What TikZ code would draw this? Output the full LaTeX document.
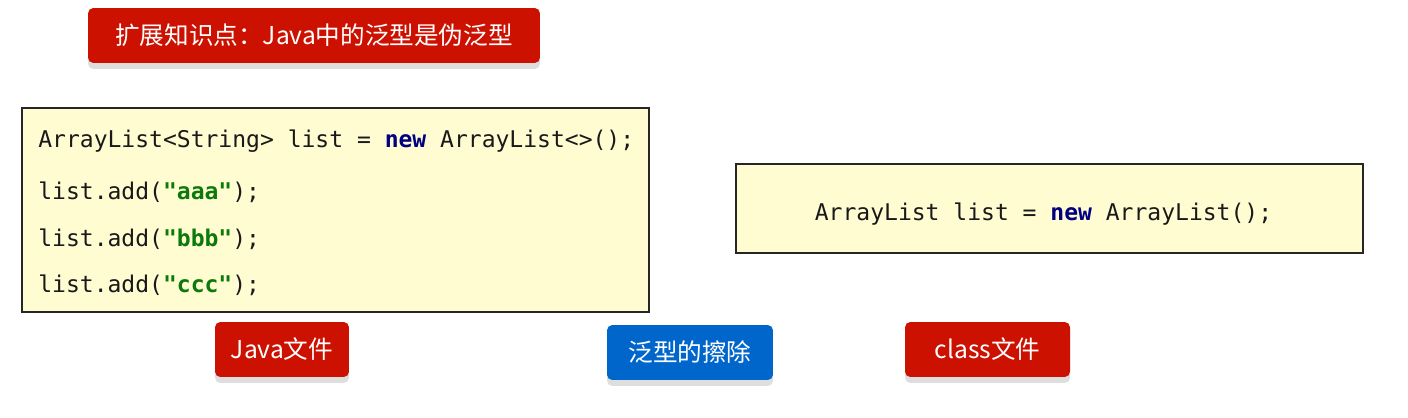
\documentclass[tikz,border=0pt]{standalone}
\usepackage{fontspec}
\setmainfont{Noto Sans CJK SC}
\setmonofont{DejaVu Sans Mono}
\usepackage{xcolor}
\usepackage{tikz}
\usetikzlibrary{shadows}

\definecolor{tagred}{HTML}{CC1100}
\definecolor{tagblue}{HTML}{0066CC}
\definecolor{codebg}{HTML}{FFFCD2}
\definecolor{kwnavy}{HTML}{000080}
\definecolor{strgreen}{HTML}{0B7A0B}

\newcommand{\kw}[1]{\textcolor{kwnavy}{\textbf{#1}}}
\newcommand{\jstr}[1]{\textcolor{strgreen}{\textbf{"#1"}}}

\begin{document}
\begin{tikzpicture}[x=0.02cm,y=-0.02cm,
	tag/.style={fill=#1,text=white,rounded corners=3pt,inner sep=0pt,minimum height=1.1cm,
		font=\fontsize{14pt}{16pt}\selectfont,
		drop shadow={shadow xshift=0pt,shadow yshift=-3.4pt,fill=black!13,opacity=1}},
	codebox/.style={draw=black!85,line width=1pt,fill=codebg,inner sep=0pt},
	code/.style={anchor=base west,inner sep=0pt,text=black!90,font=\fontsize{13.1pt}{15pt}\ttfamily}]
	\useasboundingbox (0,0) rectangle (1408,418);
	
	\node[tag=tagred,minimum width=9.04cm] (title) at (314,35.5) {扩展知识点：Java中的泛型是伪泛型};
	
	\node[codebox,minimum width=12.54cm,minimum height=4.08cm] (javacode) at (335.5,210) {};
	\node[code] (line1) at (38,148) {ArrayList<String> list = \kw{new} ArrayList<>();};
	\node[code] (line2) at (38,200) {list.add(\jstr{aaa});};
	\node[code] (line3) at (38,247) {list.add(\jstr{bbb});};
	\node[code] (line4) at (38,293) {list.add(\jstr{ccc});};
	
	\node[codebox,minimum width=12.54cm,minimum height=1.78cm] (classcode) at (1049.5,208.5) {};
	\node[code,anchor=base] (line5) at (1043.5,221) {ArrayList list = \kw{new} ArrayList();};
	
	\node[tag=tagred,minimum width=2.68cm] (javafile) at (282,349.5) {Java文件};
	\node[tag=tagblue,minimum width=3.32cm] (erasure) at (690,352.5) {泛型的擦除};
	\node[tag=tagred,minimum width=3.3cm] (classfile) at (987.5,349.5) {class文件};
\end{tikzpicture}
\end{document}
